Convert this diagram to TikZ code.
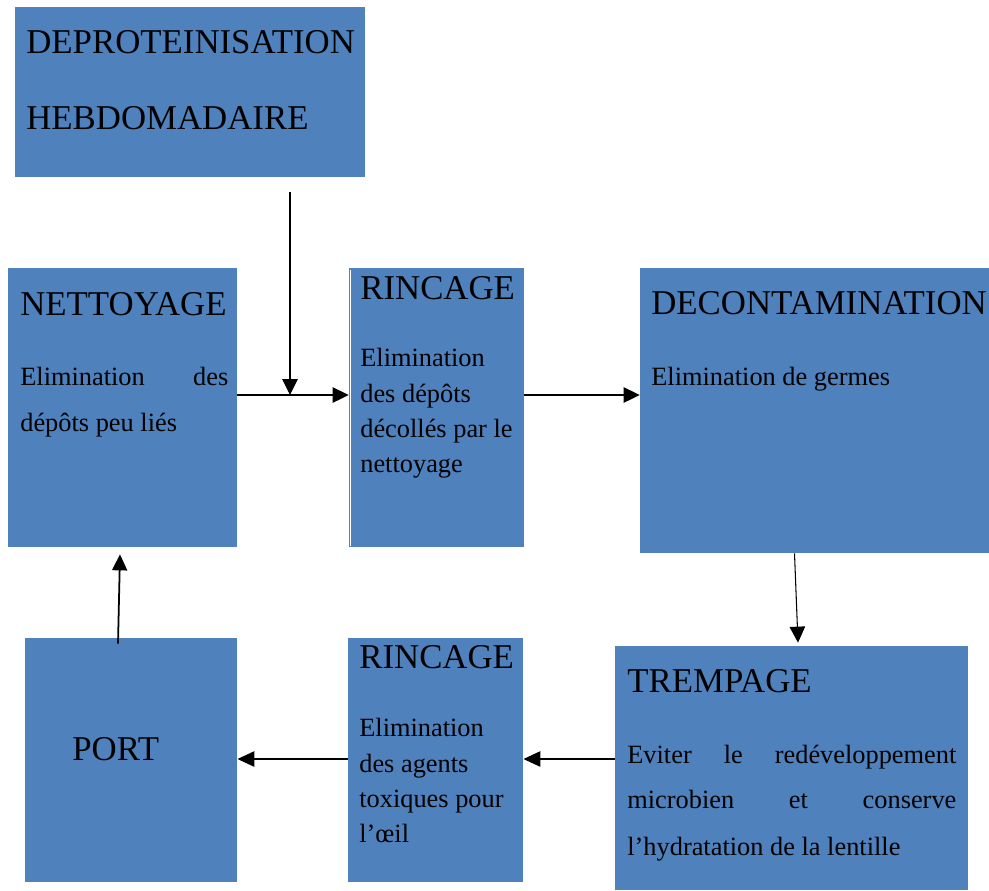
\documentclass[tikz,border=0pt]{standalone}
\usepackage{fontspec}
\setmainfont{Liberation Serif}
\usetikzlibrary{arrows.meta,fit}
\definecolor{boxblue}{RGB}{79,129,189}
\tikzset{
  etape/.style={fill=boxblue, draw=none, inner sep=0pt},
  titre/.style={anchor=base west, inner sep=0pt, font=\fontsize{19.8}{23}\selectfont},
  texte/.style={anchor=base west, inner sep=0pt, font=\fontsize{15}{18}\selectfont},
  fleche/.style={-{Triangle[length=3.2mm,width=3.1mm]}, line width=0.6pt},
  moyfleche/.style={-{Triangle[length=3.2mm,width=3mm]}, line width=1pt},
  grossefleche/.style={-{Triangle[length=3.4mm,width=3mm]}, line width=1.5pt},
}
\begin{document}
\begin{tikzpicture}[x=0.2mm,y=-0.2mm]
    \useasboundingbox (0,0) rectangle (989,890);
    % boites
    \node[etape, fit={(15,7) (365,177)}] (dep) {};
    \node[etape, fit={(8,268) (237,547)}] (net) {};
    \node[etape, fit={(349,268) (524,547)}] (rin1) {};
    \node[etape, fit={(640,268) (989,553)}] (dec) {};
    \node[etape, fit={(25,638) (237,882)}] (port) {};
    \node[etape, fit={(348,638) (523,882)}] (rin2) {};
    \node[etape, fit={(615,646) (968,890)}] (tre) {};
    \draw[white, line width=0.4pt] ([xshift=0.4mm,yshift=-0.4mm]rin1.north west) -- ([xshift=0.4mm,yshift=0.3mm]rin1.south west);
    % textes
    \node[titre] (dep-t1) at (26,53) {DEPROTEINISATION};
    \node[titre] (dep-t2) at (26,129) {HEBDOMADAIRE};
    \node[titre] (net-t) at (20,315) {NETTOYAGE};
    \node[texte] (net-l1) at (20,385) {\makebox[41.6mm][s]{Elimination des}};
    \node[texte] (net-l2) at (20,431) {dépôts peu liés};
    \node[titre] (rin1-t) at (360,299) {RINCAGE};
    \node[texte] (rin1-l1) at (360,366) {Elimination};
    \node[texte] (rin1-l2) at (360,402) {des dépôts};
    \node[texte] (rin1-l3) at (360,437) {décollés par le};
    \node[texte] (rin1-l4) at (360,472) {nettoyage};
    \node[titre] (dec-t) at (651,314) {DECONTAMINATION};
    \node[texte] (dec-l1) at (651,385) {Elimination de germes};
    \node[titre] (port-t) at (72,760) {PORT};
    \node[titre] (rin2-t) at (359,668) {RINCAGE};
    \node[texte] (rin2-l1) at (359,736) {Elimination};
    \node[texte] (rin2-l2) at (359,772) {des agents};
    \node[texte] (rin2-l3) at (359,807) {toxiques pour};
    \node[texte] (rin2-l4) at (359,842) {l’œil};
    \node[titre] (tre-t) at (627,692) {TREMPAGE};
    \node[texte] (tre-l1) at (627,763) {\makebox[65.8mm][s]{Eviter le redéveloppement}};
    \node[texte] (tre-l2) at (627,808) {\makebox[65.8mm][s]{microbien et conserve}};
    \node[texte] (tre-l3) at (627,855) {l’hydratation de la lentille};
    % fleches
    \coordinate (ligne1) at (0,395);
    \coordinate (jonction) at (290,395);
    \coordinate (depbas) at ([yshift=-3mm]dep.south);
    \draw[fleche] (depbas -| jonction) -- (jonction);
    \draw[fleche] (net.east |- ligne1) -- (rin1.west |- ligne1);
    \draw[fleche] (rin1.east |- ligne1) -- (dec.west |- ligne1);
    \draw[fleche] ([xshift=-4mm]dec.south) -- ([xshift=1.3mm,yshift=0.6mm]tre.north);
    \coordinate (ligne2) at (0,759);
    \draw[grossefleche] (tre.west |- ligne2) -- (rin2.east |- ligne2);
    \draw[grossefleche] (rin2.west |- ligne2) -- (port.east |- ligne2);
    \draw[moyfleche] ([xshift=-2.6mm,yshift=-1.2mm]port.north) -- ([xshift=-0.5mm,yshift=-1.4mm]net.south);
\end{tikzpicture}
\end{document}
